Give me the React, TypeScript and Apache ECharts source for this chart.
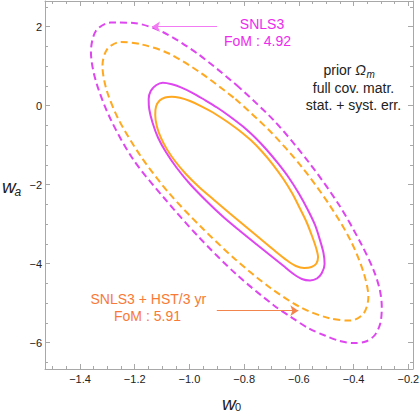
import React, { useEffect, useRef } from "react";
import * as echarts from "echarts";

// ---- axis ticks ----
const xMajor = [-1.4, -1.2, -1.0, -0.8, -0.6, -0.4, -0.2];
const xMinor = [-1.5, -1.45, -1.35, -1.3, -1.25, -1.15, -1.1, -1.05, -0.95, -0.9, -0.85, -0.75, -0.7, -0.65, -0.55, -0.5, -0.45, -0.35, -0.3, -0.25];
const yMajor = [-6, -4, -2, 0, 2];
const yMinor = [-6.5, -5.5, -5, -4.5, -3.5, -3, -2.5, -1.5, -1, -0.5, 0.5, 1, 1.5, 2.5];

// ---- contours (w0, wa) ----
const snls3Outer = [
  [-0.828, 0.524], [-0.691, -0.375], [-0.563, -1.438], [-0.453, -2.514], [-0.373, -3.489],
  [-0.327, -4.160], [-0.304, -4.666], [-0.297, -5.096], [-0.302, -5.501], [-0.322, -5.805],
  [-0.355, -5.970], [-0.402, -6.008], [-0.450, -5.957], [-0.505, -5.818], [-0.563, -5.641],
  [-0.632, -5.337], [-0.691, -5.058], [-0.828, -4.273], [-0.966, -3.324], [-1.094, -2.324],
  [-1.204, -1.375], [-1.288, -0.344], [-1.342, 0.625], [-1.360, 1.360], [-1.342, 1.891],
  [-1.288, 2.106], [-1.204, 2.094], [-1.094, 1.853], [-0.966, 1.296], [-0.828, 0.524],
];
const hstOuter = [
  [-0.832, 0.170], [-0.706, -0.641], [-0.589, -1.552], [-0.488, -2.514], [-0.411, -3.413],
  [-0.363, -4.235], [-0.346, -4.843], [-0.363, -5.256], [-0.411, -5.441], [-0.488, -5.382],
  [-0.589, -5.122], [-0.706, -4.603], [-0.832, -3.891], [-0.958, -3.066], [-1.075, -2.210],
  [-1.176, -1.299], [-1.258, -0.362], [-1.303, 0.403], [-1.318, 1.015], [-1.301, 1.428],
  [-1.253, 1.613], [-1.176, 1.554], [-1.075, 1.322], [-0.958, 0.828], [-0.832, 0.170],
];
const snls3Inner = [
  [-0.804, -0.527], [-0.760, -0.805], [-0.717, -1.122], [-0.676, -1.463], [-0.636, -1.830],
  [-0.600, -2.223], [-0.567, -2.641], [-0.541, -3.020], [-0.523, -3.400], [-0.510, -3.729],
  [-0.506, -4.008], [-0.516, -4.235], [-0.534, -4.375], [-0.559, -4.425], [-0.589, -4.387],
  [-0.622, -4.248], [-0.658, -4.046], [-0.706, -3.780], [-0.754, -3.514], [-0.815, -3.172],
  [-0.876, -2.818], [-0.936, -2.425], [-0.998, -1.982], [-1.046, -1.577], [-1.086, -1.172],
  [-1.115, -0.805], [-1.135, -0.425], [-1.147, -0.084], [-1.149, 0.170], [-1.141, 0.377],
  [-1.122, 0.517], [-1.097, 0.582], [-1.064, 0.544], [-1.031, 0.466], [-0.991, 0.334],
  [-0.947, 0.157], [-0.899, -0.046], [-0.852, -0.273], [-0.804, -0.527],
];
const hstInner = [
  [-0.819, -0.620], [-0.775, -0.876], [-0.735, -1.160], [-0.695, -1.489], [-0.658, -1.843],
  [-0.625, -2.210], [-0.596, -2.603], [-0.572, -2.944], [-0.552, -3.299], [-0.537, -3.603],
  [-0.530, -3.830], [-0.536, -3.995], [-0.554, -4.084], [-0.581, -4.109], [-0.611, -4.058],
  [-0.643, -3.919], [-0.687, -3.679], [-0.742, -3.362], [-0.797, -3.046], [-0.852, -2.729],
  [-0.910, -2.387], [-0.965, -2.058], [-1.013, -1.729], [-1.053, -1.400], [-1.082, -1.109],
  [-1.104, -0.818], [-1.119, -0.527], [-1.125, -0.235], [-1.122, -0.020], [-1.109, 0.132],
  [-1.089, 0.208], [-1.065, 0.228], [-1.035, 0.200], [-0.998, 0.119], [-0.958, -0.008],
  [-0.914, -0.172], [-0.866, -0.387], [-0.819, -0.620],
];

// ---- annotation arrows (data coords) ----
const snls3Arrow = [[-0.899, 2.0], [-1.137, 2.0]];
const hstArrow = [[-0.900, -5.19], [-0.602, -5.19]];

const X_MIN = -1.5279;
const X_MAX = -0.1829;
const Y_MIN = -6.666;
const Y_MAX = 2.651;

const MAGENTA = "#DE46F0";
const ORANGE = "#FFA820";
const MAGENTA_TEXT = "#EE2AEE";
const ORANGE_TEXT = "#F87A36";
const FRAME = "#a8a8a8";
const FONT = "'Liberation Sans', Arial, Helvetica, sans-serif";

const minus = (s: string) => s.replace("-", "\u2212");

function xAxisDef(position: "bottom" | "top", ticks: number[], len: number, line: boolean, labels: boolean) {
  return {
    type: "value",
    position,
    min: X_MIN,
    max: X_MAX,
    axisLine: { show: line, onZero: false, lineStyle: { color: FRAME, width: 1 } },
    axisTick: { show: true, inside: true, length: len, customValues: ticks, lineStyle: { color: FRAME, width: 1 } },
    axisLabel: {
      show: labels,
      customValues: ticks,
      margin: 4,
      color: "#222",
      fontSize: 11,
      fontFamily: FONT,
      formatter: (v: number) => minus(v.toFixed(1)),
    },
    splitLine: { show: false },
  };
}

function yAxisDef(position: "left" | "right", ticks: number[], len: number, line: boolean, labels: boolean) {
  return {
    type: "value",
    position,
    min: Y_MIN,
    max: Y_MAX,
    axisLine: { show: line, onZero: false, lineStyle: { color: FRAME, width: 1 } },
    axisTick: { show: true, inside: true, length: len, customValues: ticks, lineStyle: { color: FRAME, width: 1 } },
    axisLabel: {
      show: labels,
      customValues: ticks,
      margin: 3,
      color: "#222",
      fontSize: 11,
      fontFamily: FONT,
      formatter: (v: number) => minus(Math.round(v).toString()),
    },
    splitLine: { show: false },
  };
}

function contour(name: string, data: number[][], color: string, dashed: boolean, arrow?: number[][], arrowColor?: string) {
  const s: any = {
    name,
    type: "line",
    data,
    showSymbol: false,
    symbol: "none",
    smooth: 0.3,
    silent: true,
    clip: true,
    lineStyle: { color, width: 2, type: dashed ? [7, 4] : "solid" },
    z: dashed ? 2 : 3,
  };
  if (arrow) {
    s.markLine = {
      silent: true,
      symbol: ["none", "arrow"],
      symbolSize: 8,
      label: { show: false },
      lineStyle: { type: "solid", width: 1, color: arrowColor },
      itemStyle: { color: arrowColor },
      data: [[{ coord: arrow[0] }, { coord: arrow[1] }]],
    };
  }
  return s;
}

const txt = (text: string, x: number, y: number, color: string, size: number, align: string, extra: any = {}) => ({
  type: "text",
  silent: true,
  style: {
    text,
    x,
    y,
    fill: color,
    fontSize: size,
    fontFamily: FONT,
    textAlign: align,
    textVerticalAlign: "middle",
    ...extra,
  },
});

export default function App() {
  const ref = useRef<HTMLDivElement>(null);
  useEffect(() => {
    if (!ref.current) return;
    const chart = echarts.init(ref.current, null, { renderer: "svg" });
    const option: any = {
      animation: false,
      backgroundColor: "#ffffff",
      grid: { left: 45, right: 7, top: 1, bottom: 45, containLabel: false, outerBoundsMode: "none" },
      xAxis: [
        xAxisDef("bottom", xMajor, 5, true, true),
        xAxisDef("bottom", xMinor, 3, false, false),
        xAxisDef("top", xMajor, 5, true, false),
        xAxisDef("top", xMinor, 3, false, false),
      ],
      yAxis: [
        yAxisDef("left", yMajor, 5, true, true),
        yAxisDef("left", yMinor, 3, false, false),
        yAxisDef("right", yMajor, 5, true, false),
        yAxisDef("right", yMinor, 3, false, false),
      ],
      series: [
        contour("SNLS3 2σ", snls3Outer, MAGENTA, true, snls3Arrow, "#F27AF2"),
        contour("SNLS3 + HST 2σ", hstOuter, ORANGE, true, hstArrow, "#F2844E"),
        contour("SNLS3 1σ", snls3Inner, MAGENTA, false),
        contour("SNLS3 + HST 1σ", hstInner, ORANGE, false),
      ],
      graphic: [
        txt("SNLS3", 262, 23.5, MAGENTA_TEXT, 14, "center"),
        txt("FoM : 4.92", 257.5, 40.9, MAGENTA_TEXT, 14, "center"),
        txt("SNLS3 + HST/3 yr", 148.3, 298.5, ORANGE_TEXT, 14, "center"),
        txt("FoM : 5.91", 147.5, 315.9, ORANGE_TEXT, 14, "center"),
        {
          type: "text",
          silent: true,
          style: {
            text: "{a|prior }{b|\u03A9}",
            x: 366,
            y: 70.2,
            textAlign: "right",
            textVerticalAlign: "middle",
            fill: "#222",
            fontSize: 14,
            fontFamily: FONT,
            rich: {
              a: { fontSize: 14, fontFamily: FONT, fill: "#222" },
              b: { fontSize: 14, fontFamily: FONT, fill: "#222", fontStyle: "italic" },
            },
          },
        },
        txt("m", 366.5, 74.5, "#222", 10, "left", { fontStyle: "italic" }),
        txt("full cov. matr.", 353.5, 87.5, "#222", 14, "center"),
        txt("stat. + syst. err.", 353.5, 104.7, "#222", 14, "center"),
        txt("w", 2, 186.4, "#222", 19, "left", { fontStyle: "italic" }),
        txt("a", 14.5, 191.8, "#222", 12, "left", { fontStyle: "italic" }),
        txt("w", 222, 403.2, "#222", 19, "left", { fontStyle: "italic" }),
        txt("0", 235, 406.6, "#222", 11, "left"),
      ],
    };
    chart.setOption(option);
    return () => chart.dispose();
  }, []);
  return (
    <div
      ref={ref}
      style={{ position: "fixed", left: 0, top: 0, width: 420, height: 414, background: "#fff" }}
    />
  );
}
